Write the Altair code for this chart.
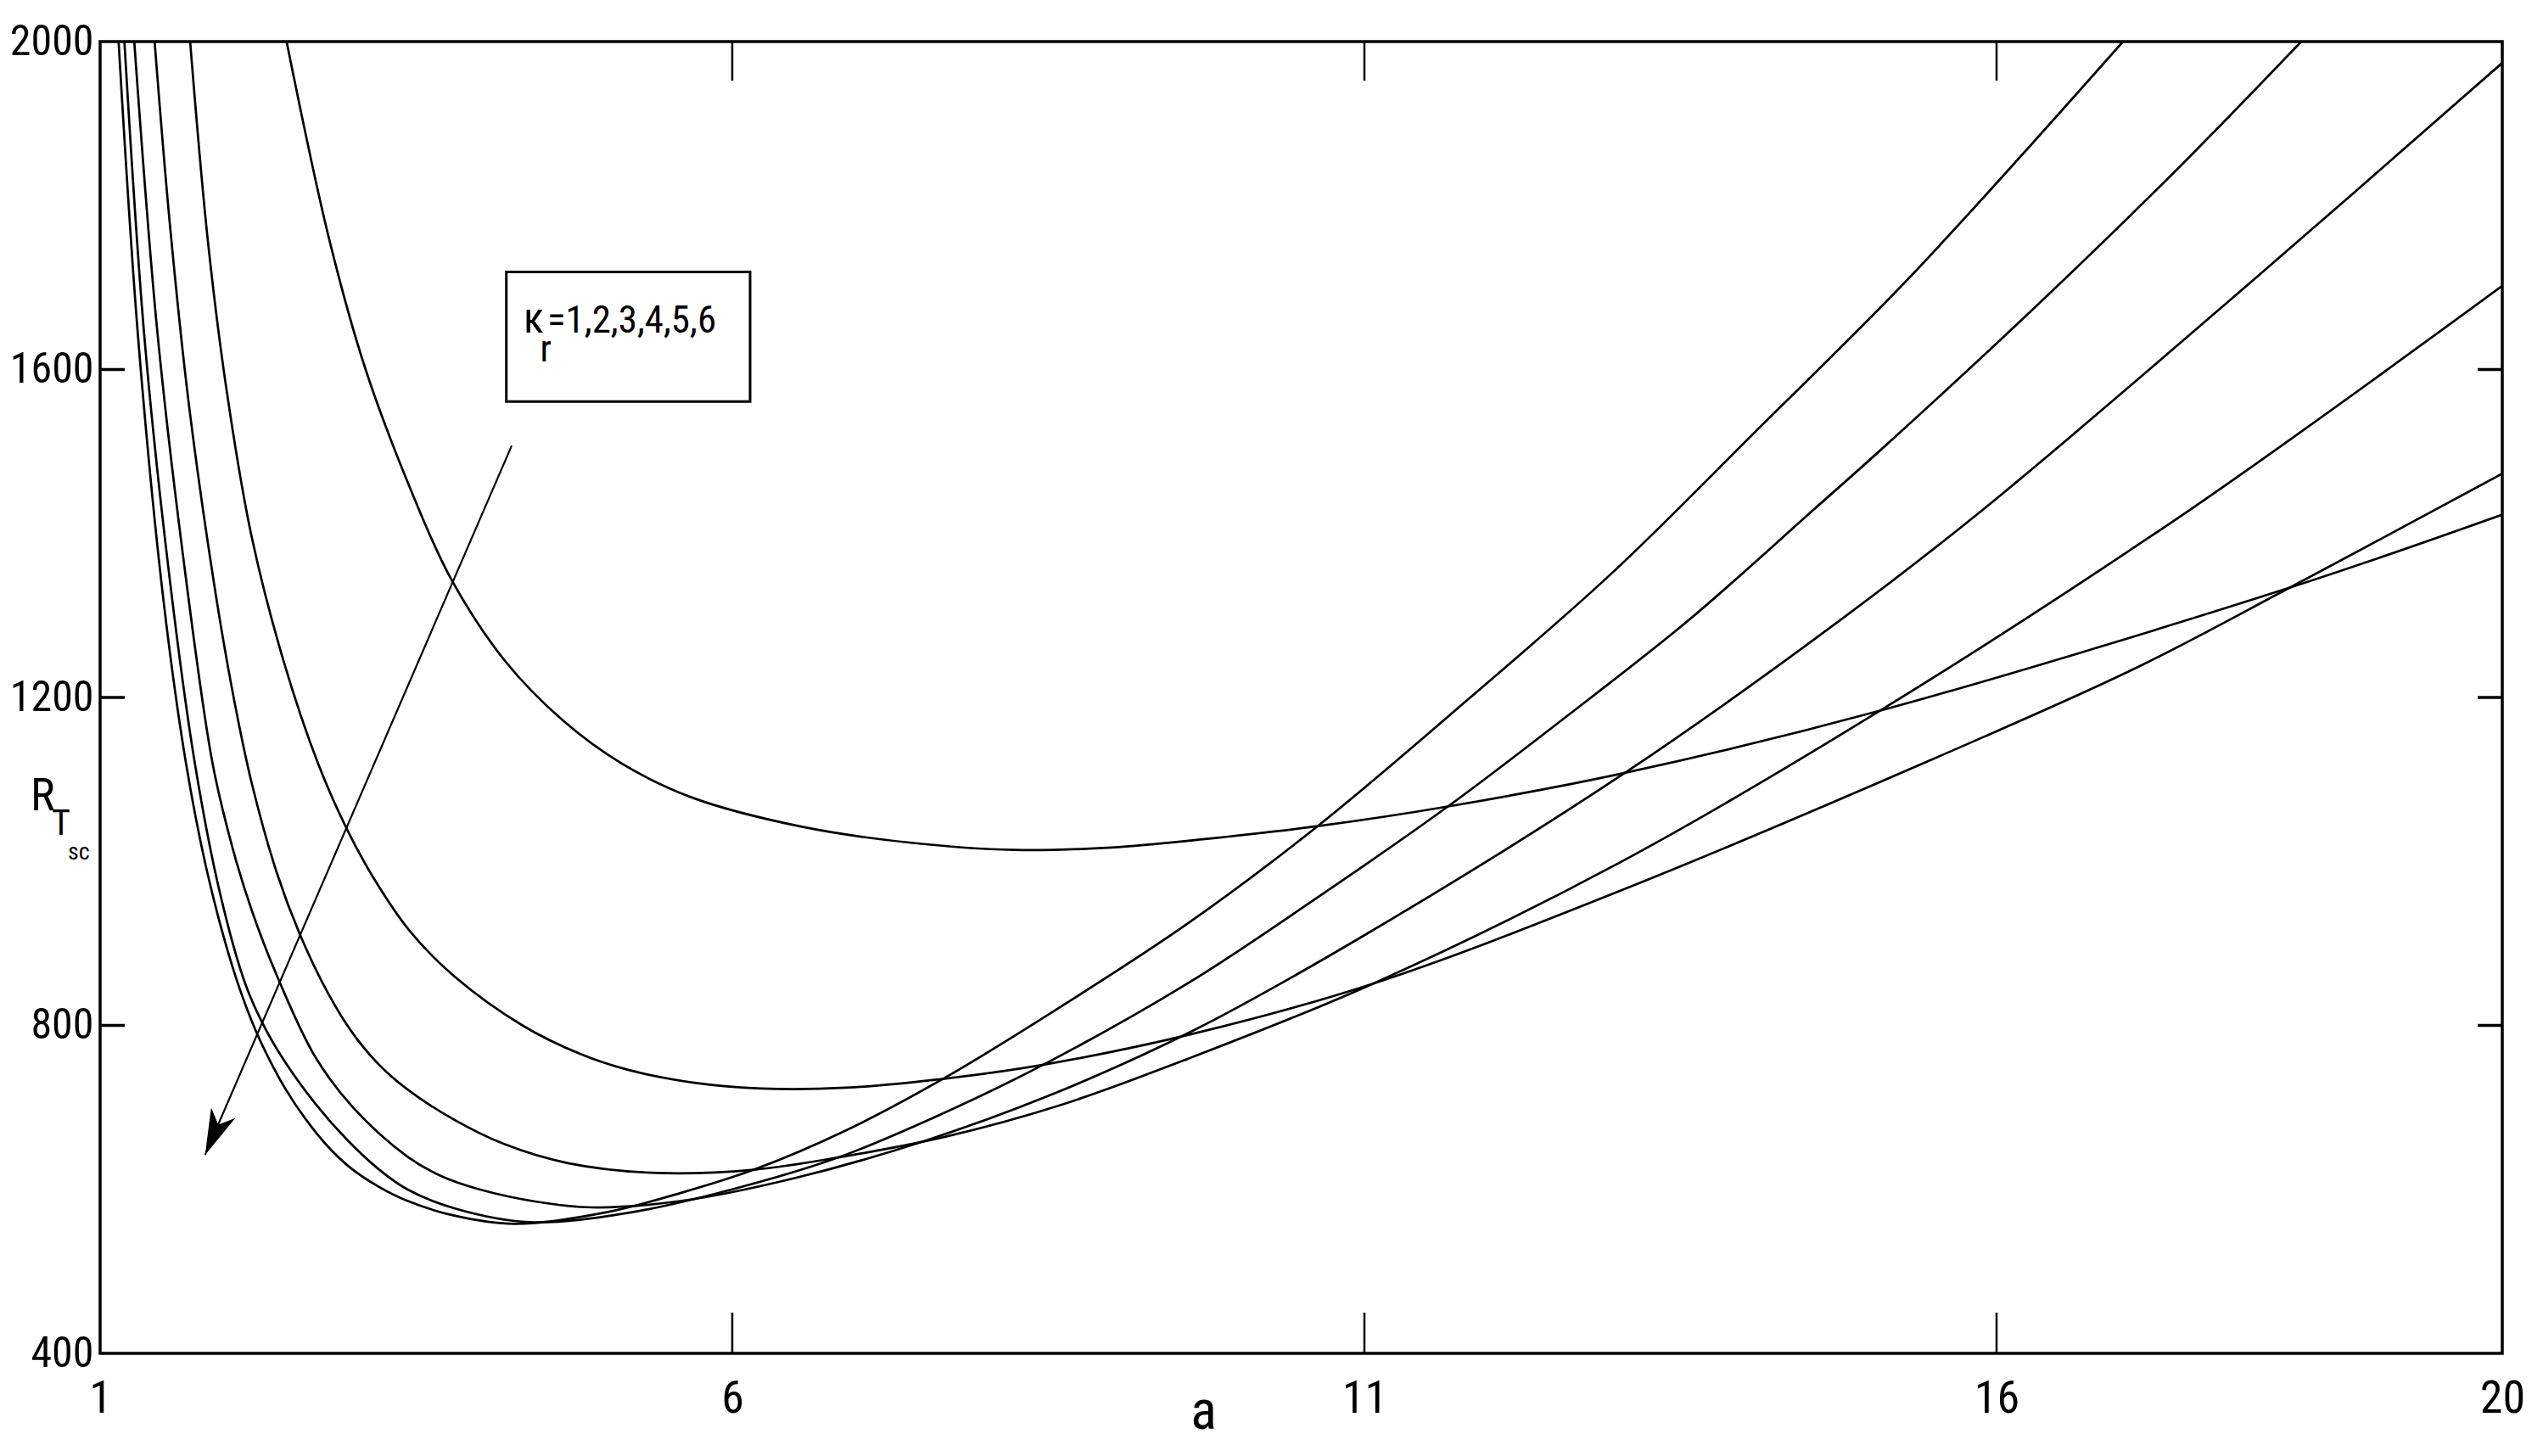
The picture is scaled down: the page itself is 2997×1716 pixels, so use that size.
import altair as alt
import pandas as pd

# ---------------- data ----------------
kappa_r = [1, 2, 3, 4, 5, 6]

a_k1 = [2.475, 2.81, 3.10, 3.466, 3.774, 4.20, 4.66, 5.12, 5.68, 6.56, 7.4, 8.23, 9.0, 9.72, 10.63, 11.66, 13.06, 15.08, 18.32, 20.0]
R_k1 = [2000, 1760, 1600, 1450, 1345, 1245, 1172, 1120, 1078, 1042, 1023, 1014, 1017, 1027, 1043, 1067, 1108, 1184, 1334, 1423]

a_k2 = [1.712, 1.85, 2.0, 2.2, 2.45, 2.725, 2.95, 3.17, 3.45, 3.8, 4.34, 4.8, 5.17, 5.7, 6.23, 6.9, 7.68, 8.46, 9.65, 11.07, 13.02, 15.9, 17.13, 18.32, 20.0]
R_k2 = [2000, 1760, 1575, 1395, 1245, 1119, 1040, 978, 915, 860, 800, 765, 746, 730, 723, 724, 735, 752, 790, 851, 964, 1152, 1238, 1334, 1473]

a_k3 = [1.431, 1.55, 1.7, 1.9, 2.05, 2.2, 2.4, 2.58, 2.8, 3.0, 3.206, 3.43, 3.8, 4.2, 4.7, 5.4, 6.17, 6.84, 7.68, 8.6, 9.6, 11.07, 13.0, 15.08, 17.54, 20.0]
R_k3 = [2000, 1780, 1560, 1340, 1205, 1095, 985, 911, 840, 790, 752, 722, 685, 655, 632, 620, 624, 639, 664, 703, 759, 851, 997, 1184, 1430, 1702]

a_k4 = [1.27, 1.45, 1.65, 1.89, 2.05, 2.2, 2.4, 2.7, 3.0, 3.43, 3.7, 4.0, 4.45, 4.89, 5.6, 6.5, 7.5, 8.5, 9.65, 11.0, 13.06, 14.77, 15.9, 18.0, 20.0]
R_k4 = [2000, 1650, 1380, 1119, 1015, 940, 860, 762, 700, 640, 616, 600, 585, 578, 586, 614, 658, 714, 794, 910, 1108, 1295, 1430, 1705, 1974]

a_k5 = [1.192, 1.35, 1.55, 1.75, 1.95, 2.15, 2.3, 2.456, 2.7, 2.95, 3.2, 3.43, 3.8, 4.4, 5.2, 6.0, 6.84, 7.6, 8.46, 9.6, 10.6, 11.66, 12.6, 13.57, 14.56, 15.07, 16.25, 17.42, 18.41]
R_k5 = [2000, 1640, 1345, 1119, 960, 850, 798, 757, 705, 661, 625, 600, 577, 560, 572, 600, 639, 688, 752, 851, 953, 1067, 1177, 1295, 1430, 1500, 1668, 1843, 2000]

a_k6 = [1.146, 1.3, 1.5, 1.68, 1.85, 2.05, 2.2, 2.333, 2.468, 2.624, 2.803, 2.982, 3.206, 3.43, 3.8, 4.28, 5.0, 5.6, 6.17, 6.9, 7.68, 8.6, 9.6, 10.63, 11.8, 12.96, 14.13, 15.31, 17.0]
R_k6 = [2000, 1640, 1320, 1119, 985, 870, 805, 760, 722, 686, 652, 626, 603, 586, 568, 558, 572, 596, 624, 672, 736, 823, 924, 1043, 1195, 1352, 1530, 1712, 2000]

x_tick_values = [1, 6, 11, 16, 20]
y_tick_values = [400, 800, 1200, 1600, 2000]

# annotation: text box and arrow (data coordinates)
box_a = [4.213, 6.141]
box_R = [1561, 1719]
legend_text = ["\u03ba", "=1,2,3,4,5,6", "r"]
legend_a = [4.349, 4.537, 4.48]
legend_R = [1645, 1645, 1610]
legend_size = [50, 45, 44]
arrow_a = [4.255, 1.83]
arrow_R = [1507, 642]

# ---------------- build tables ----------------
series = [(a_k1, R_k1), (a_k2, R_k2), (a_k3, R_k3), (a_k4, R_k4), (a_k5, R_k5), (a_k6, R_k6)]
rows = []
for k, (xv, yv) in zip(kappa_r, series):
    for i, (x, y) in enumerate(zip(xv, yv)):
        rows.append({"kappa": k, "order": i, "a": x, "R": y})
df = pd.DataFrame(rows)

W, H = 2831, 1546
FONT = "'Liberation Sans Narrow', 'Roboto Condensed', 'Noto Sans Condensed', 'Liberation Sans', Arial, sans-serif"

xs = alt.Scale(domain=[1, 20], nice=False, zero=False)
ys = alt.Scale(domain=[400, 2000], nice=False, zero=False)

curves = alt.Chart(df).mark_line(color="black", strokeWidth=2.7, interpolate="catmull-rom", clip=True).encode(
    x=alt.X("a:Q", scale=xs, axis=alt.Axis(values=x_tick_values, format="d", title="a", ticks=False, tickSize=0,
                                           domain=False, grid=False, labelFlush=False, labelOverlap=False,
                                           labelPadding=26, labelFontSize=54, labelFont=FONT, labelColor="black",
                                           titleFont=FONT, titleFontSize=64, titleFontWeight="normal",
                                           titleColor="black", titleX=1300, titleY=88, titleAlign="center",
                                           titleBaseline="alphabetic")),
    y=alt.Y("R:Q", scale=ys, axis=alt.Axis(values=y_tick_values, format="d", title=None, ticks=False, tickSize=0,
                                           domain=False, grid=False, labelFlush=False, labelOverlap=False,
                                           labelPadding=8, labelFontSize=50, labelFont=FONT, labelColor="black",
                                           labelBaseline="middle")),
    detail="kappa:N",
    order="order:Q",
)

xt = pd.DataFrame({"t": x_tick_values[1:-1]})
yt = pd.DataFrame({"t": y_tick_values[1:-1]})
tick_x_bottom = alt.Chart(xt).mark_rule(color="black", strokeWidth=2.5).encode(
    x=alt.X("t:Q", scale=xs), y=alt.value(H), y2=alt.value(H - 48))
tick_x_top = alt.Chart(xt).mark_rule(color="black", strokeWidth=2.5).encode(
    x=alt.X("t:Q", scale=xs), y=alt.value(0), y2=alt.value(46))
tick_y_left = alt.Chart(yt).mark_rule(color="black", strokeWidth=3.5).encode(
    y=alt.Y("t:Q", scale=ys), x=alt.value(0), x2=alt.value(29))
tick_y_right = alt.Chart(yt).mark_rule(color="black", strokeWidth=3.5).encode(
    y=alt.Y("t:Q", scale=ys), x=alt.value(W), x2=alt.value(W - 29))

box_df = pd.DataFrame({"a1": [box_a[0]], "a2": [box_a[1]], "R1": [box_R[0]], "R2": [box_R[1]]})
box = alt.Chart(box_df).mark_rect(fill="white", stroke="black", strokeWidth=3).encode(
    x=alt.X("a1:Q", scale=xs), x2="a2:Q", y=alt.Y("R1:Q", scale=ys), y2="R2:Q")

lt = pd.DataFrame({"txt": legend_text, "a": legend_a, "R": legend_R, "size": legend_size})
legend_txt = alt.Chart(lt).mark_text(align="left", baseline="alphabetic", font=FONT, color="black").encode(
    x=alt.X("a:Q", scale=xs), y=alt.Y("R:Q", scale=ys), text="txt:N",
    size=alt.Size("size:Q", scale=None, legend=None))

arr = pd.DataFrame({"a": arrow_a, "R": arrow_R, "o": [0, 1]})
arrow_line = alt.Chart(arr).mark_line(color="black", strokeWidth=2.2).encode(
    x=alt.X("a:Q", scale=xs), y=alt.Y("R:Q", scale=ys), order="o:Q")
head = alt.Chart(arr.iloc[[1]]).mark_point(
    shape="M0,0 L0.287,-1 L0,-0.722 L-0.287,-1 Z", filled=True, color="black", opacity=1,
    size=11664, angle=23.4, strokeWidth=0).encode(
    x=alt.X("a:Q", scale=xs), y=alt.Y("R:Q", scale=ys))

# y-axis title R_T_sc (text annotations left of the axis)
ttl = pd.DataFrame({"txt": ["R", "T", "sc"], "px": [-82, -57, -38], "py": [906, 935, 964], "size": [54, 42, 28]})
ytitle = alt.Chart(ttl).mark_text(align="left", baseline="alphabetic", font=FONT, color="black").encode(
    x=alt.X("px:Q", scale=None), y=alt.Y("py:Q", scale=None), text="txt:N",
    size=alt.Size("size:Q", scale=None, legend=None))

chart = alt.layer(curves, tick_x_bottom, tick_x_top, tick_y_left, tick_y_right, box, legend_txt,
                  arrow_line, head, ytitle).properties(
    width=W, height=H,
    autosize=alt.AutoSizeParams(type="none"),
    padding={"left": 110, "top": 41, "right": 30, "bottom": 110},
).configure(background="white", view=alt.ViewConfig(stroke="black", strokeWidth=3.5))

chart.save("out.html", embed_options={"renderer": "svg", "actions": False})
